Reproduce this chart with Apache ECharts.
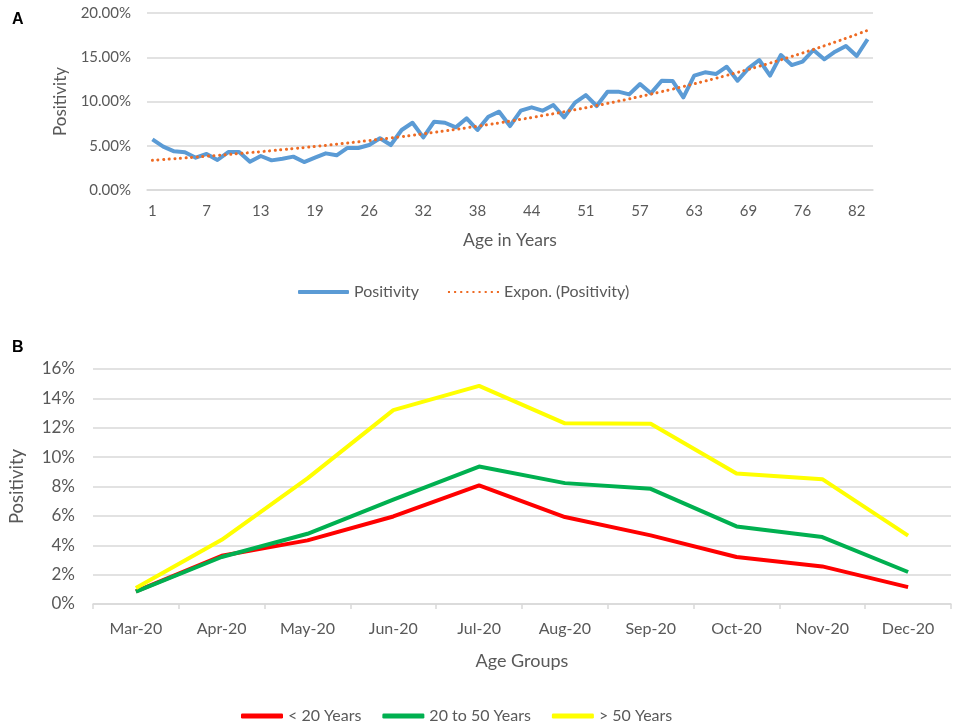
<!DOCTYPE html>
<html>
<head>
<meta charset="utf-8">
<script src="https://cdn.jsdelivr.net/npm/echarts@6/dist/echarts.min.js"></script>
<style>
  html, body { margin: 0; padding: 0; background: #fff; }
  #main { width: 957px; height: 727px; }
</style>
</head>
<body>
<div id="main"></div>
<script>
var myChart = echarts.init(document.getElementById('main'));

// panel A: positivity by age (labels shown every 5th category)
var ages = ['1', '2', '3', '4', '6', '7', '8', '9', '10', '12', '13',
    '14', '15', '16', '18', '19', '20', '21', '23', '24', '26',
    '27', '28', '29', '31', '32', '33', '34', '35', '37', '38',
    '39', '40', '42', '43', '44', '45', '47', '48', '50', '51',
    '52', '53', '54', '56', '57', '58', '59', '61', '62', '63',
    '64', '65', '67', '68', '69', '70', '72', '73', '75', '76',
    '77', '78', '80', '81', '82', '83'];
var positivity = [5.73, 4.90, 4.37, 4.26, 3.65, 4.07, 3.39, 4.29, 4.29, 3.20, 3.84,
    3.35, 3.54, 3.77, 3.16, 3.65, 4.14, 3.92, 4.75, 4.75, 5.08,
    5.84, 5.08, 6.78, 7.60, 5.95, 7.72, 7.60, 7.08, 8.10, 6.78,
    8.28, 8.85, 7.23, 8.96, 9.34, 8.96, 9.60, 8.21, 9.87, 10.73,
    9.49, 11.11, 11.11, 10.80, 11.98, 10.92, 12.35, 12.32, 10.47, 12.92,
    13.30, 13.10, 13.93, 12.35, 13.75, 14.69, 12.92, 15.25, 14.12, 14.50,
    15.82, 14.77, 15.63, 16.27, 15.14, 17.03];

// panel B: positivity by month and age group
var months = ['Mar-20', 'Apr-20', 'May-20', 'Jun-20', 'Jul-20',
    'Aug-20', 'Sep-20', 'Oct-20', 'Nov-20', 'Dec-20'];
var under20 = [0.86, 3.28, 4.33, 5.96, 8.07, 5.92, 4.67, 3.20, 2.56, 1.15];
var from20to50 = [0.84, 3.20, 4.78, 7.10, 9.36, 8.23, 7.84, 5.28, 4.56, 2.18];
var over50 = [1.09, 4.37, 8.55, 13.20, 14.85, 12.30, 12.27, 8.89, 8.50, 4.65];

// exponential trendline, same as excel: ln(y) = a + b*x, x = 1..n
var n = positivity.length, sx = 0, sy = 0, sxx = 0, sxy = 0;
positivity.forEach(function (v, i) {
    var x = i + 1, y = Math.log(v);
    sx += x; sy += y; sxx += x * x; sxy += x * y;
});
var b = (n * sxy - sx * sy) / (n * sxx - sx * sx);
var a = (sy - b * sx) / n;
var trend = positivity.map(function (v, i) {
    return +(Math.exp(a + b * (i + 1))).toFixed(3);
});

var font = 'Lato, "Open Sans", sans-serif';
var grey = '#595959';
var gridColor = '#d9d9d9';
// dotted legend icon for the trendline
var dots = 'path://M0,0h2v2h-2z M6,0h2v2h-2z M12,0h2v2h-2z M18,0h2v2h-2z M24,0h2v2h-2z ' +
    'M30,0h2v2h-2z M36,0h2v2h-2z M42,0h2v2h-2z M48,0h2v2h-2z';

option = {
    animation: false,
    textStyle: { fontFamily: font },
    title: [
        { text: 'A', left: 7, top: 7, textStyle: { fontFamily: 'Liberation Sans', fontSize: 16, fontWeight: 'bold', color: '#000' } },
        { text: 'B', left: 7, top: 335, textStyle: { fontFamily: 'Liberation Sans', fontSize: 16, fontWeight: 'bold', color: '#000' } }
    ],
    legend: [
        {
            data: [
                { name: 'Positivity', icon: 'roundRect', itemStyle: { borderWidth: 0 } },
                { name: 'Expon. (Positivity)', icon: dots, itemStyle: { borderWidth: 0 } }
            ],
            left: 298, top: 284, padding: 0,
            itemWidth: 51, itemHeight: 4, itemGap: 29,
            textStyle: { color: grey, fontSize: 16, fontFamily: font }
        },
        {
            data: [
                { name: '< 20 Years', icon: 'roundRect' },
                { name: '20 to 50 Years', icon: 'roundRect' },
                { name: '> 50 Years', icon: 'roundRect' }
            ],
            left: 241, top: 708, padding: 0,
            itemWidth: 42, itemHeight: 5, itemGap: 21,
            textStyle: { color: grey, fontSize: 16, fontFamily: font }
        }
    ],
    grid: [
        { left: 147, right: 84, top: 13, height: 177 },
        { left: 84, right: 6, top: 369, height: 235 }
    ],
    xAxis: [
        {
            gridIndex: 0,
            type: 'category',
            data: ages,
            boundaryGap: true,
            name: 'Age in Years',
            nameLocation: 'middle',
            nameGap: 41,
            nameTextStyle: { color: grey, fontSize: 17.5, fontFamily: font },
            axisLine: { lineStyle: { color: gridColor, width: 1.5 } },
            axisTick: { show: false },
            axisLabel: { interval: 4, color: grey, fontSize: 15, margin: 14 }
        },
        {
            gridIndex: 1,
            type: 'category',
            data: months,
            boundaryGap: true,
            name: 'Age Groups',
            nameLocation: 'middle',
            nameGap: 48,
            nameTextStyle: { color: grey, fontSize: 18, fontFamily: font },
            axisLine: { lineStyle: { color: gridColor, width: 1.5 } },
            axisTick: { show: true, length: 5, lineStyle: { color: gridColor, width: 1.5 } },
            axisLabel: { interval: 0, color: grey, fontSize: 16, margin: 17 }
        }
    ],
    yAxis: [
        {
            gridIndex: 0,
            type: 'value',
            min: 0, max: 20, interval: 5,
            name: 'Positivity',
            nameLocation: 'middle',
            nameGap: 78,
            nameTextStyle: { color: grey, fontSize: 17, fontFamily: font },
            axisLine: { show: false },
            axisTick: { show: false },
            axisLabel: { color: grey, fontSize: 15, margin: 16, formatter: function (v) { return v.toFixed(2) + '%'; } },
            splitLine: { lineStyle: { color: gridColor, width: 1.5 } }
        },
        {
            gridIndex: 1,
            type: 'value',
            min: 0, max: 16, interval: 2,
            name: 'Positivity',
            nameLocation: 'middle',
            nameGap: 66,
            nameTextStyle: { color: grey, fontSize: 18.5, fontFamily: font },
            axisLine: { show: false },
            axisTick: { show: false },
            axisLabel: { color: grey, fontSize: 17, margin: 18, formatter: '{value}%' },
            splitLine: { lineStyle: { color: gridColor, width: 1.5 } }
        }
    ],
    series: [
        {
            name: 'Positivity',
            type: 'line',
            xAxisIndex: 0, yAxisIndex: 0,
            data: positivity,
            symbol: 'none',
            color: '#5B9BD5',
            lineStyle: { color: '#5B9BD5', width: 4, join: 'round' }
        },
        {
            name: 'Expon. (Positivity)',
            type: 'line',
            xAxisIndex: 0, yAxisIndex: 0,
            data: trend,
            symbol: 'none',
            smooth: true,
            color: '#EE6B24',
            lineStyle: { color: '#EE6B24', width: 3, type: [0.1, 5.5], cap: 'round' }
        },
        {
            name: '< 20 Years',
            type: 'line',
            xAxisIndex: 1, yAxisIndex: 1,
            data: under20,
            symbol: 'none',
            color: '#FF0000',
            lineStyle: { color: '#FF0000', width: 4, join: 'round' }
        },
        {
            name: '20 to 50 Years',
            type: 'line',
            xAxisIndex: 1, yAxisIndex: 1,
            data: from20to50,
            symbol: 'none',
            color: '#00B050',
            lineStyle: { color: '#00B050', width: 4, join: 'round' }
        },
        {
            name: '> 50 Years',
            type: 'line',
            xAxisIndex: 1, yAxisIndex: 1,
            data: over50,
            symbol: 'none',
            color: '#FFFF00',
            lineStyle: { color: '#FFFF00', width: 4, join: 'round' }
        }
    ]
};

myChart.setOption(option);
</script>
</body>
</html>
